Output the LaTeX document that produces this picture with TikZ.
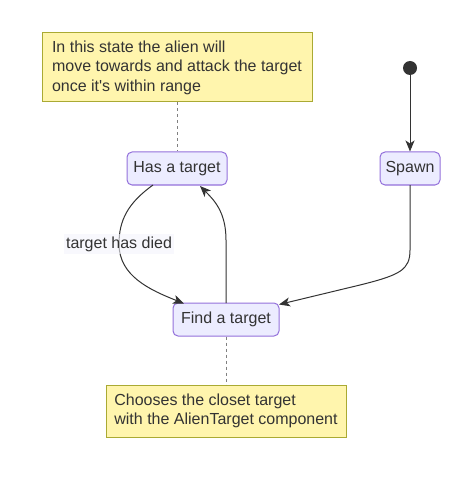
\documentclass[tikz,border=0pt]{standalone}
\usepackage{fontspec}
\setmainfont{Liberation Sans}[Ligatures=TeXOff]
\usetikzlibrary{arrows.meta}
\definecolor{notefill}{HTML}{FFF5AD}
\definecolor{notedraw}{HTML}{AAAA33}
\definecolor{statefill}{HTML}{ECECFF}
\definecolor{statedraw}{HTML}{9370DB}
\definecolor{linec}{HTML}{333333}
\definecolor{labfill}{HTML}{F3F3FB}
\tikzset{
  statebox/.style={draw=statedraw, fill=statefill, rounded corners=5pt, line width=1pt,
    minimum height=33pt, inner sep=0pt, font=\fontsize{16}{19}\selectfont, text=linec},
  notebox/.style={draw=notedraw, fill=notefill, line width=1pt, inner sep=0pt, align=left,
    text=linec},
  trans/.style={draw=linec, line width=1pt, -{Stealth[length=11pt,width=9pt,inset=3pt]}},
  notelink/.style={draw=gray, line width=1pt, dash pattern=on 3pt off 3pt},
}
\begin{document}
\begin{tikzpicture}[x=1pt,y=-1pt]
\useasboundingbox (0,0) rectangle (456,478);
\node[notebox, minimum width=270, minimum height=69, font=\fontsize{16}{19.5}\selectfont] (n1) at (177,67.5)
  {In this state the alien will\\move towards and attack the target\\once it's within range};
\node[statebox, minimum width=100] (has) at (177,168.5) {Has a target};
\node[statebox, minimum width=60] (spawn) at (410,168.5) {Spawn};
\node[statebox, minimum width=106] (find) at (226,319.5) {Find a target};
\node[notebox, minimum width=240, minimum height=52, font=\fontsize{16}{18.5}\selectfont] (n2) at (226,411)
  {Chooses the closet target\\with the AlienTarget component};
\node[circle, fill=linec, minimum size=14pt, inner sep=0pt] (start) at (410,68) {};

\draw[notelink] (n1.south) -- (has.north);
\draw[notelink] (find.south) -- (n2.north);
\draw[trans] (start.south) -- (spawn.north);

\coordinate (h1) at (153,185);
\coordinate (lab) at (119,244);
\coordinate (f1) at (184,303.5);
\draw[trans] (h1) .. controls (128,203) and (119,220) .. (lab) .. controls (119,276) and (150,290) .. (f1);
\node[fill=labfill, fill opacity=0.6, text opacity=1, inner xsep=2pt, inner ysep=3pt,
  font=\fontsize{16}{19}\selectfont, text=linec] (lbl) at (lab) {target has died};

\coordinate (f2) at (226,303);
\coordinate (f3) at (226,240);
\coordinate (h2) at (200,186);
\draw[trans] (f2) -- (f3) .. controls (226,212) and (214,200) .. (h2);

\coordinate (s1) at (410,185);
\coordinate (s2) at (410,250);
\coordinate (s3) at (360,285);
\coordinate (f4) at (279,304.5);
\draw[trans] (s1) -- (s2) .. controls (410,270) and (400,275) .. (s3) -- (f4);
\end{tikzpicture}
\end{document}
